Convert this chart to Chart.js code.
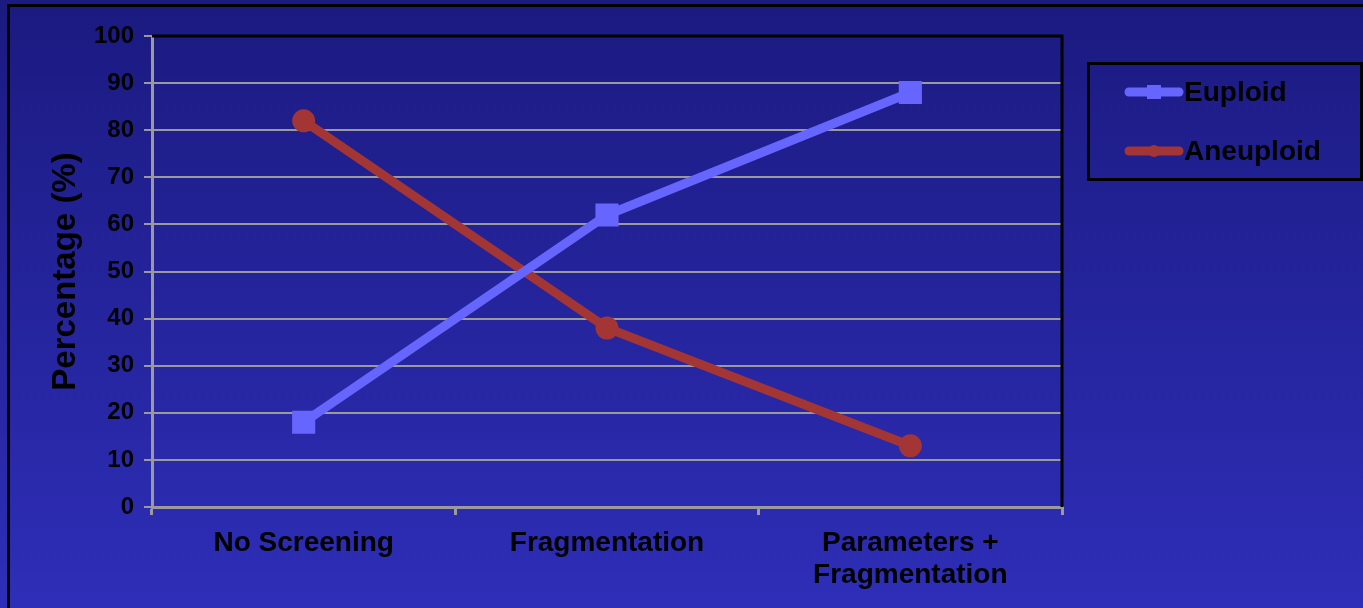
<!DOCTYPE html>
<html>
<head>
<meta charset="utf-8">
<script src="https://cdn.jsdelivr.net/npm/chart.js@4.4.1/dist/chart.umd.min.js"></script>
<style>
  html, body { margin: 0; padding: 0; background: #1c1b85; }
  #wrap { width: 1363px; height: 608px; }
</style>
</head>
<body>
<div id="wrap"><canvas id="c" width="1363" height="608"></canvas></div>
<script>
// Screening method along the x axis
const categories = ['No Screening', 'Fragmentation', ['Parameters +', 'Fragmentation']];
// Share of embryos (%) in each group
const euploid = [18, 62, 88];
const aneuploid = [82, 38, 13];
const yTicks = [0, 10, 20, 30, 40, 50, 60, 70, 80, 90, 100];

const FONT = '"Liberation Sans", Arial, sans-serif';

// Background gradient, outer frame, plot border and boxed legend
const decor = {
  id: 'decor',
  beforeDraw(chart) {
    const { ctx, width, height } = chart;
    ctx.save();
    const g = ctx.createLinearGradient(0, 0, 0, height);
    g.addColorStop(0, '#1b1a80');
    g.addColorStop(1, '#2e2eb8');
    ctx.fillStyle = g;
    ctx.fillRect(0, 0, width, height);
    ctx.strokeStyle = '#000';
    ctx.lineWidth = 3;
    ctx.beginPath();
    ctx.moveTo(8.5, height);
    ctx.lineTo(8.5, 5.5);
    ctx.lineTo(width, 5.5);
    ctx.stroke();
    ctx.restore();
  },
  afterDatasetsDraw(chart) {
    const { ctx, chartArea: a } = chart;
    ctx.save();
    ctx.strokeStyle = '#000';
    ctx.lineWidth = 3;
    ctx.beginPath();
    ctx.moveTo(a.left, a.top);
    ctx.lineTo(a.right, a.top);
    ctx.lineTo(a.right, a.bottom);
    ctx.stroke();

    // legend box
    const bx = 1088, by = 63, bw = 273, bh = 116;
    ctx.lineWidth = 3;
    ctx.strokeRect(bx + 0.5, by + 0.5, bw, bh);
    const rows = [92, 151];
    chart.data.datasets.forEach((ds, i) => {
      const y = rows[i];
      ctx.strokeStyle = ds.borderColor;
      ctx.lineWidth = 9;
      ctx.lineCap = 'round';
      ctx.beginPath();
      ctx.moveTo(1129, y);
      ctx.lineTo(1179, y);
      ctx.stroke();
      ctx.fillStyle = ds.borderColor;
      if (ds.pointStyle === 'rect') {
        ctx.fillRect(1147, y - 7, 14, 14);
      } else {
        ctx.beginPath();
        ctx.arc(1154, y, 6, 0, Math.PI * 2);
        ctx.fill();
      }
      ctx.fillStyle = '#000';
      ctx.font = 'bold 28px ' + FONT;
      ctx.textBaseline = 'middle';
      ctx.textAlign = 'left';
      ctx.fillText(ds.label, 1184, y + 1);
    });
    ctx.restore();
  }
};

new Chart(document.getElementById('c'), {
  type: 'line',
  data: {
    labels: categories,
    datasets: [
      {
        label: 'Euploid',
        data: euploid,
        borderColor: '#6666ff',
        backgroundColor: '#6666ff',
        borderWidth: 9,
        pointStyle: 'rect',
        pointRadius: 10,
        pointHoverRadius: 10,
        tension: 0
      },
      {
        label: 'Aneuploid',
        data: aneuploid,
        borderColor: '#a33534',
        backgroundColor: '#a33534',
        borderWidth: 9,
        pointStyle: 'circle',
        pointRadius: 7,
        pointHoverRadius: 7,
        tension: 0
      }
    ]
  },
  options: {
    responsive: false,
    animation: false,
    layout: { padding: { left: 0, top: 36, right: 301, bottom: 0 } },
    plugins: {
      legend: { display: false },
      tooltip: { enabled: false }
    },
    scales: {
      x: {
        offset: true,
        grid: {
          offset: true,
          drawOnChartArea: false,
          drawTicks: true,
          tickLength: 8,
          color: '#9a9a9a',
          lineWidth: 3
        },
        border: { color: '#9a9a9a', width: 3 },
        ticks: {
          color: '#000',
          padding: 12,
          maxRotation: 0,
          font: { family: FONT, size: 28, weight: 'bold', lineHeight: 1.15 }
        },
        afterFit(scale) { scale.height = 101; }
      },
      y: {
        min: 0,
        max: 100,
        afterBuildTicks(scale) { scale.ticks = yTicks.map(v => ({ value: v })); },
        grid: {
          color: '#9a9a9a',
          lineWidth: 2,
          tickLength: 8
        },
        border: { color: '#9a9a9a', width: 3 },
        ticks: {
          color: '#000',
          padding: 10,
          font: { family: FONT, size: 24, weight: 'bold' }
        },
        title: {
          display: true,
          text: 'Percentage (%)',
          color: '#000',
          padding: { top: 46, bottom: 0 },
          font: { family: FONT, size: 33, weight: 'bold' }
        },
        afterFit(scale) { scale.width = 152; }
      }
    }
  },
  plugins: [decor]
});
</script>
</body>
</html>
